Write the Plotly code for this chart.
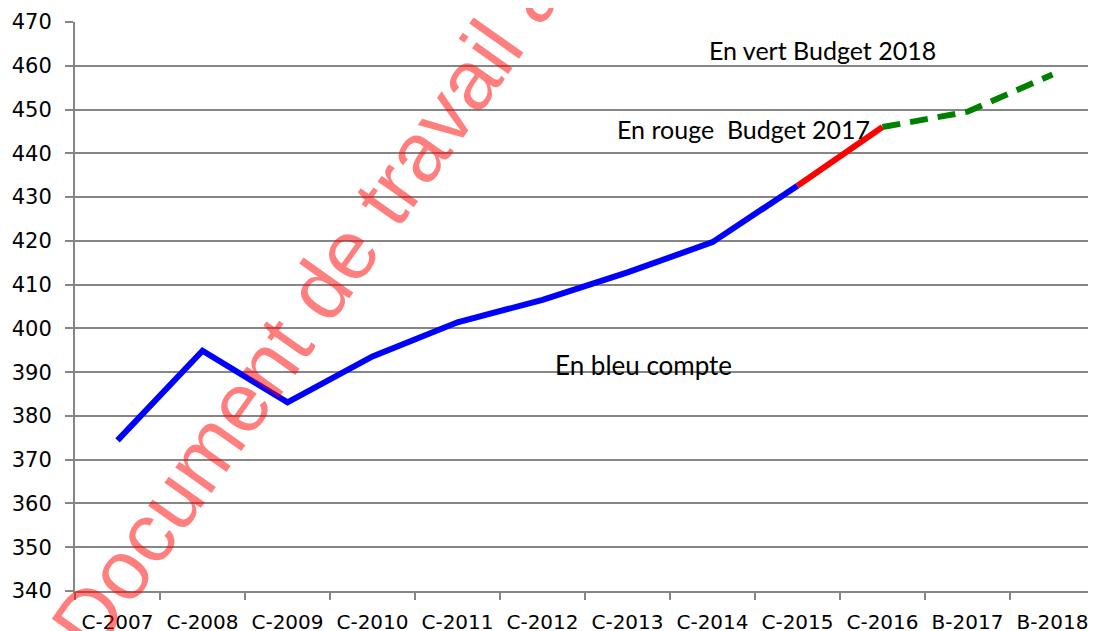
import plotly.graph_objects as go

categories = ["C-2007", "C-2008", "C-2009", "C-2010", "C-2011", "C-2012",
              "C-2013", "C-2014", "C-2015", "C-2016", "B-2017", "B-2018"]

compte_cat = categories[0:9]
compte_val = [374.4, 394.9, 383.1, 393.6, 401.4, 406.5, 412.8, 419.7, 432.6]

budget2017_cat = ["C-2015", "C-2016"]
budget2017_val = [432.6, 446.0]

budget2018_cat = ["C-2016", "B-2017", "B-2018"]
budget2018_val = [446.0, 449.5, 458.0]

y_ticks = list(range(340, 471, 10))

# page body has an 8px margin: plot area spans x 75..1095, y 22..591 on the page
OFF = 8
PL, PR, PT, PB = 75, 1095, 22, 591
def px(x):
    return (x - PL) / (PR - PL)
def py(y):
    return (PB - y) / (PB - PT)

fig = go.Figure()
fig.add_trace(go.Scatter(x=compte_cat, y=compte_val, mode="lines",
                         line=dict(color="#0000FF", width=6), showlegend=False))
fig.add_trace(go.Scatter(x=budget2017_cat, y=budget2017_val, mode="lines",
                         line=dict(color="#FF0000", width=6), showlegend=False))
fig.add_trace(go.Scatter(x=budget2018_cat, y=budget2018_val, mode="lines",
                         line=dict(color="#008000", width=6, dash="18px,10px"),
                         showlegend=False))

ann_font = dict(family="Lato", size=25, color="black")
fig.add_annotation(text="En vert Budget 2018", x=px(707), y=py(50),
                   xref="paper", yref="paper", xanchor="left", yanchor="middle",
                   showarrow=False, font=ann_font)
fig.add_annotation(text="En rouge&nbsp;&nbsp;Budget 2017", x=px(615), y=py(129),
                   xref="paper", yref="paper", xanchor="left", yanchor="middle",
                   showarrow=False, font=ann_font)
fig.add_annotation(text="En bleu compte", x=px(553), y=py(365),
                   xref="paper", yref="paper", xanchor="left", yanchor="middle",
                   showarrow=False, font=dict(family="Lato", size=26, color="black"))

# watermark
fig.add_annotation(text="Document de travail à", x=px(307), y=py(308),
                   xref="paper", yref="paper", xanchor="center", yanchor="middle",
                   textangle=-54.7, showarrow=False,
                   font=dict(family="Liberation Sans", size=84, color="rgba(255,0,0,0.5)"))

W, H = 1096 - OFF, 631 - OFF
fig.update_layout(
    width=W, height=H,
    margin=dict(l=PL - OFF, r=W - (PR - OFF), t=PT - OFF, b=H - (PB - OFF)),
    paper_bgcolor="white", plot_bgcolor="white",
    xaxis=dict(type="category", categoryorder="array", categoryarray=categories,
               range=[-0.5, 11.5], showgrid=False, showline=True, linecolor="#868686",
               linewidth=2, ticks="outside", tickson="boundaries", ticklen=7,
               tickcolor="#868686", tickwidth=2, automargin=False,
               tickfont=dict(family="DejaVu Sans", size=20, color="black"),
               ticklabelstandoff=12),
    yaxis=dict(range=[340, 470], tickvals=y_ticks, showgrid=True, gridcolor="#868686",
               gridwidth=1.5, showline=True, linecolor="#868686", linewidth=2,
               ticks="outside", ticklen=8, tickcolor="#868686", tickwidth=1.5,
               automargin=False,
               tickfont=dict(family="DejaVu Sans", size=21, color="black"),
               ticklabelstandoff=9, zeroline=False),
)

fig.write_html("out.html")
